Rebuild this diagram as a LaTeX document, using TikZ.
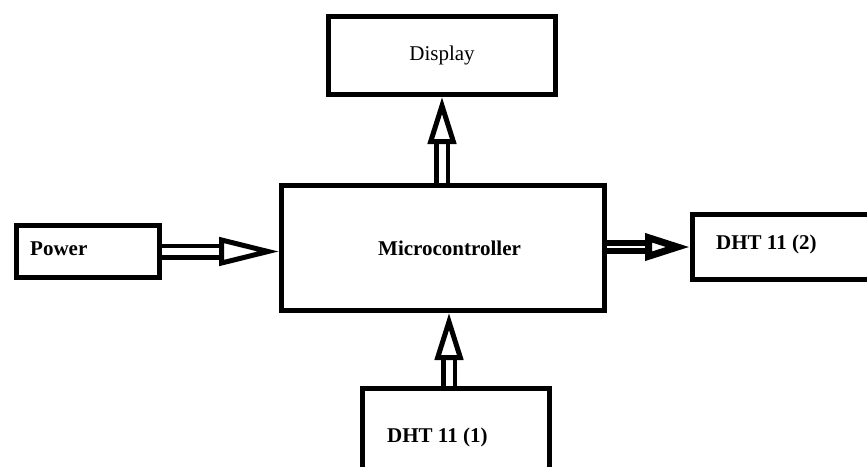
\documentclass[tikz,border=0pt]{standalone}
\usepackage{fontspec}
\setmainfont{Liberation Serif}
\usetikzlibrary{arrows.meta}
\tikzset{x=1pt, y=-1pt}
\tikzset{
  blockbox/.style={draw, line width=5pt, inner sep=0pt, font=\fontsize{21}{25}\selectfont},
  blocktext/.style={anchor=west, inner sep=0pt, font=\fontsize{21}{25}\selectfont\bfseries},
  dblarrow/.style={double, line width=4.5pt, double distance=7pt,
    -{Triangle[open, length=#1, width=28pt, line width=5pt]}},
  dblarrow/.default=47pt,
  fatarrow/.style={double, line width=6pt, double distance=2.5pt,
    -{Triangle[open, length=45pt, width=26pt, line width=7pt]}}
}

\begin{document}
\begin{tikzpicture}
\clip (0,0) rectangle (867,466);
% blocks
\node[blockbox, minimum width=227pt, minimum height=78pt] (disp) at (442,55.5) {Display};
\node[blockbox, minimum width=323pt, minimum height=125pt] (micro) at (443,248) {};
\node[blocktext] (microtxt) at (378,248) {Microcontroller};
\node[blockbox, minimum width=143pt, minimum height=52pt] (pow) at (88,251.5) {};
\node[blocktext] (powtxt) at (30,249) {Power};
\node[blockbox, minimum width=200pt, minimum height=65pt] (dht2) at (792.5,247) {};
\node[blocktext] (dht2txt) at (716,244) {DHT 11 (2)};
\node[blockbox, minimum width=187pt, minimum height=150pt] (dht1) at (456,463.5) {};
\node[blocktext] (dht1txt) at (387,437) {DHT 11 (1)};
% arrows
\coordinate (d1x) at (449,0);
\draw[dblarrow=60pt] (pow.east) -- (micro.west |- pow.east);
\draw[dblarrow] (micro.north -| disp.south) -- (disp.south);
\draw[dblarrow] (dht1.north -| d1x) -- (micro.south -| d1x);
\draw[fatarrow] (micro.east |- dht2.west) -- (dht2.west);
\end{tikzpicture}
\end{document}
